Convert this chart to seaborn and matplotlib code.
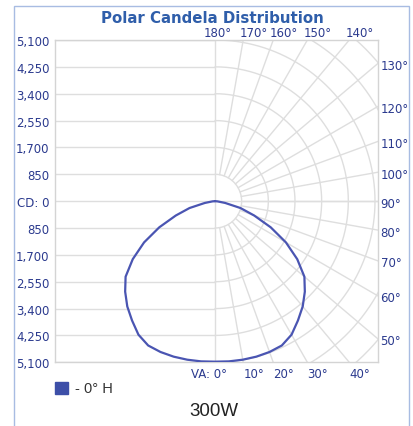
import numpy as np
import pandas as pd
import matplotlib
matplotlib.use('Agg')
import matplotlib.pyplot as plt
import seaborn as sns
from matplotlib.patches import Rectangle

# vertical angle (0 = straight down) and candela, 0 deg H plane (symmetric)
va_angles = [0, 5, 10, 15, 20, 25, 30, 35, 40, 45, 50, 55, 60, 65, 70, 75, 80, 85, 90]
candela = [5080, 5090, 5095, 5095, 5080, 5040, 4880, 4610, 4350, 4050, 3720, 3200,
           2610, 1960, 1330, 840, 330, 80, 0]

cd_ticks = [0, 850, 1700, 2550, 3400, 4250, 5100]
bottom_angles = [0, 10, 20, 30, 40]
right_angles = [50, 60, 70, 80, 90, 100, 110, 120, 130]
top_angles = [140, 150, 160, 170, 180]

title = 'Polar Candela Distribution'
series_name = '- 0° H'
caption = '300W'

sns.set_theme(style='white')
plt.rcParams['font.family'] = ['DejaVu Sans']

text_col = '#2B3A8E'
grid_col = '#DEDEDE'
line_col = '#4A55B2'
cd_max = 5100
x_right = 5180

fig = plt.figure(figsize=(4.13, 4.27), dpi=100)
ax = fig.add_axes([55 / 413, 1 - 363.3 / 427, 322.5 / 413, 322.3 / 427])

# left half: plain horizontal grid lines
for v in cd_ticks[1:]:
    for s in (1, -1):
        ax.plot([-cd_max, 0], [s * v, s * v], color=grid_col, lw=1, zorder=1)
ax.axhline(0, color=grid_col, lw=1, zorder=1)
ax.axvline(0, color=grid_col, lw=1, zorder=1)

# right half: polar rings and spokes
t = np.radians(np.linspace(0, 180, 361))
for R in np.arange(850, 8501, 850):
    ax.plot(R * np.sin(t), -R * np.cos(t), color=grid_col, lw=1, zorder=1)
for a in range(10, 180, 10):
    r = np.radians(a)
    ax.plot([850 * np.sin(r), 9000 * np.sin(r)], [-850 * np.cos(r), -9000 * np.cos(r)],
            color=grid_col, lw=1, zorder=1)

# closed candela curve, mirrored to the left
ang = np.radians(np.array(va_angles))
cd = np.array(candela)
xs = np.concatenate([-(cd * np.sin(ang))[::-1], (cd * np.sin(ang))[1:]])
ys = np.concatenate([-(cd * np.cos(ang))[::-1], -(cd * np.cos(ang))[1:]])
df = pd.DataFrame({'x': xs, 'y': ys})
sns.lineplot(data=df, x='x', y='y', sort=False, estimator=None, color=line_col,
             lw=1.6, ax=ax, zorder=3)

ax.set_xlim(-cd_max, x_right)
ax.set_ylim(-cd_max, cd_max)
ax.set_xlabel('')
ax.set_ylabel('')
ax.set_xticks([])
yt = [-v for v in cd_ticks[::-1]] + cd_ticks[1:]
ax.set_yticks(yt)
ax.set_yticklabels(['CD: 0' if v == 0 else f'{abs(v):,}' for v in yt])
ax.tick_params(axis='y', length=0, pad=4, labelsize=8.5, labelcolor=text_col)
for sp in ax.spines.values():
    sp.set_color('#D4D4D4')
    sp.set_linewidth(1)

# angle labels where the spokes meet the frame
for a in bottom_angles:
    xh = cd_max * np.tan(np.radians(a))
    if a == 0:
        ax.annotate('VA: 0°', xy=(xh, -cd_max), xytext=(12, -11), textcoords='offset pixels',
                    ha='right', va='center', fontsize=8.5, color=text_col, annotation_clip=False)
    else:
        ax.annotate(f'{a}°', xy=(xh, -cd_max), xytext=(0, -11), textcoords='offset pixels',
                    ha='left', va='center', fontsize=8.5, color=text_col, annotation_clip=False)
for a in right_angles:
    yh = -x_right / np.tan(np.radians(a)) if a != 90 else 0
    ax.annotate(f'{a}°', xy=(x_right, yh), xytext=(3, -2), textcoords='offset pixels',
                ha='left', va='center', fontsize=8.5, color=text_col, annotation_clip=False)
for a in top_angles:
    xh = cd_max * np.tan(np.radians(180 - a))
    dx = -11 if a == 180 else -4
    ax.annotate(f'{a}°', xy=(xh, cd_max), xytext=(dx, 8), textcoords='offset pixels',
                ha='left', va='center', fontsize=8.5, color=text_col, annotation_clip=False)

fig.text(212 / 413, 1 - 23.3 / 427, title, ha='center', va='baseline', fontsize=10.8,
         fontweight='bold', color='#2F5EAA')

# legend swatch
fig.patches.append(Rectangle((55 / 413, 1 - 395 / 427), 13 / 413, 12 / 427,
                             transform=fig.transFigure, color='#3D4FA8'))
fig.text(75 / 413, 1 - 389 / 427, series_name, ha='left', va='center', fontsize=10.5,
         family='Liberation Sans', color='#333333')
fig.text(214 / 413, 1 - 412 / 427, caption, ha='center', va='center', fontsize=13.5,
         family='Liberation Sans', color='#222222')

# outer light-blue frame
fig.patches.append(Rectangle((14 / 413, -0.1), 395 / 413, 1.1 - 7 / 427,
                             transform=fig.transFigure, fill=False, ec='#A8BCE2', lw=1))

fig.savefig('out.png', dpi=100)
